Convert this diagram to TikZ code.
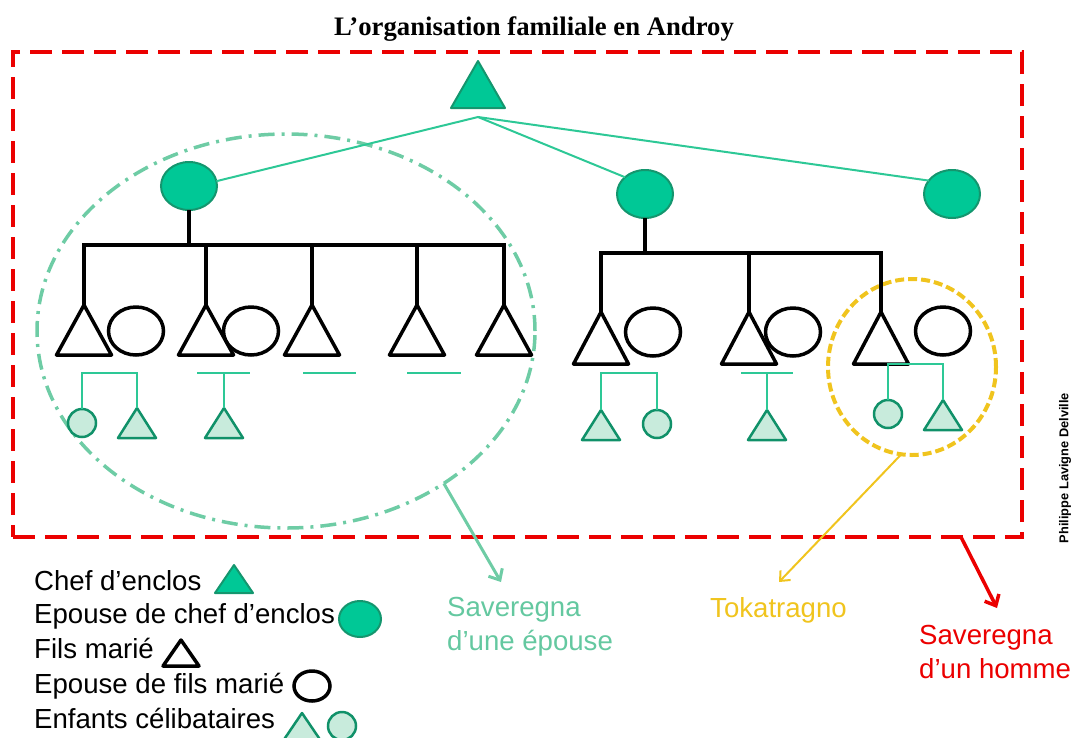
\documentclass[tikz,border=0pt]{standalone}
\usepackage{fontspec}
\setmainfont{Liberation Serif}
\setsansfont{Liberation Sans}
\usetikzlibrary{shapes.geometric}
\usetikzlibrary{arrows.meta}
\usetikzlibrary{positioning}

\definecolor{chefgreen}{RGB}{0,200,150}
\definecolor{chefline}{RGB}{20,150,110}
\definecolor{descgreen}{RGB}{45,200,150}
\definecolor{childfill}{RGB}{200,235,220}
\definecolor{childline}{RGB}{16,145,105}
\definecolor{sepgreen}{RGB}{110,204,165}
\definecolor{labgreen}{RGB}{100,200,160}
\definecolor{tokyellow}{RGB}{240,196,30}
\definecolor{homred}{RGB}{235,0,0}

\tikzset{
    tri/.style={isosceles triangle, shape border rotate=90, isosceles triangle stretches,
        inner sep=0pt, outer sep=0pt, anchor=apex, line join=round},
    chef/.style={tri, draw=chefline, fill=chefgreen, line width=2pt},
    wifechef/.style={ellipse, draw=chefline, fill=chefgreen, line width=2pt, inner sep=0pt,
        outer sep=0pt, minimum width=56pt, minimum height=48pt},
    son/.style={tri, draw=black, line width=3.5pt, minimum width=55pt, minimum height=50pt},
    wife/.style={ellipse, draw=black, line width=3.5pt, inner sep=0pt, outer sep=0pt,
        minimum width=55pt, minimum height=48pt},
    boy/.style={tri, draw=childline, fill=childfill, line width=2.5pt, minimum width=38pt,
        minimum height=30pt},
    girl/.style={circle, draw=childline, fill=childfill, line width=2.5pt, inner sep=0pt,
        outer sep=0pt, minimum size=28pt},
    kin/.style={line width=3.5pt},
    desc/.style={draw=descgreen, line width=2pt},
    legend/.style={font=\sffamily\fontsize{27.6}{30}\selectfont, anchor=base west, inner sep=0pt},
    caption/.style={font=\sffamily\fontsize{27.6}{34}\selectfont, align=left, anchor=north west,
        inner sep=0pt},
}

\begin{document}
\begin{tikzpicture}[x=1pt, y=-1pt]
    \useasboundingbox (0,0) rectangle (1075,737);

    \node[font=\bfseries\fontsize{26.7}{30}\selectfont, anchor=base] (title) at (534,35)
        {L’organisation familiale en Androy};
    \node[draw=homred, line width=4pt, dash pattern=on 22pt off 10pt, outer sep=0pt,
        minimum width=1009pt, minimum height=485pt, anchor=north west] (hom) at (13,52) {};

    \node[ellipse, draw=sepgreen, line width=3.5pt, dash pattern=on 16pt off 7pt on 3pt off 7pt,
        outer sep=0pt, minimum width=498pt, minimum height=394pt] (sep) at (286,331) {};
    \node[ellipse, draw=tokyellow, line width=4pt, dash pattern=on 9pt off 4pt, outer sep=0pt,
        minimum width=168pt, minimum height=176pt] (tok) at (912,367) {};

    \node[chef, minimum width=54pt, minimum height=47pt] (c0) at (478,61) {};
    \node[wifechef] (e1) at (189,186) {};
    \node[wifechef] (e2) at (645,194) {};
    \node[wifechef] (e3) at (952,194) {};
    \coordinate (cj) at (478,117);
    \draw[desc] (e1.10) -- (cj) -- (e2.140);
    \draw[desc] (cj) -- (e3.150);

    \foreach \n/\x in {1/84, 2/206, 3/312, 4/417, 5/504}
        \node[son] (s\n) at (\x,305) {};
    \node[wife] (w1) at (136,331) {};
    \node[wife] (w2) at (251,331) {};
    \coordinate (b1) at (189,245);
    \draw[kin] (e1) -- (b1);
    \draw[kin] (s1.apex) -- (s1.apex |- b1) -- (s5.apex |- b1) -- (s5.apex);
    \foreach \n in {2,3,4}
        \draw[kin] (s\n.apex) -- (s\n.apex |- b1);

    \foreach \n/\x in {6/601, 7/749, 8/881}
        \node[son, minimum height=52pt] (s\n) at (\x,312) {};
    \node[wife] (w6) at (653,332) {};
    \node[wife] (w7) at (793,332) {};
    \node[wife] (w8) at (943,331) {};
    \coordinate (b2) at (645,253);
    \draw[kin] (e2) -- (b2);
    \draw[kin] (s6.apex) -- (s6.apex |- b2) -- (s8.apex |- b2) -- (s8.apex);
    \draw[kin] (s7.apex) -- (s7.apex |- b2);

    \node[girl] (g1) at (82,423) {};
    \node[boy] (k1) at (137,408) {};
    \draw[desc] (g1.north) -- (g1.north |- 0,373) -- (k1.apex |- 0,373) -- (k1.apex);
    \node[boy] (k2) at (224,408) {};
    \coordinate (d2) at (224,373);
    \draw[desc] (k2.apex) -- (d2);
    \draw[desc] ([xshift=-27pt]d2) -- ([xshift=26pt]d2);
    \coordinate (d3) at (303,373);
    \draw[desc] (d3) -- ++(53,0);
    \coordinate (d4) at (407,373);
    \draw[desc] (d4) -- ++(54,0);

    \node[boy] (k6) at (601,410) {};
    \node[girl] (g6) at (657,424) {};
    \draw[desc] (k6.apex) -- (k6.apex |- 0,373) -- (g6.north |- 0,373) -- (g6.north);
    \node[boy] (k7) at (767,410) {};
    \coordinate (d7) at (767,373);
    \draw[desc] (k7.apex) -- (d7);
    \draw[desc] ([xshift=-26pt]d7) -- ([xshift=26pt]d7);
    \node[girl] (g8) at (888,414) {};
    \node[boy] (k8) at (943,400) {};
    \draw[desc] (g8.north) -- (g8.north |- 0,364) -- (k8.apex |- 0,364) -- (k8.apex);

    \node[caption, text=labgreen] (lep) at (447,597) {Saveregna\\d’une épouse};
    \node[caption, text=tokyellow] (ltok) at (710,597) {Tokatragno};
    \node[caption, text=homred] (lhom) at (919,625) {Saveregna\\d’un homme};
    \coordinate (ae) at (501,582);
    \coordinate (at) at (779,582);
    \coordinate (ah) at (997,608);
    \draw[-{Straight Barb[length=9pt,width=16pt]}, draw=sepgreen, line width=3pt] (sep.-44) -- (ae);
    \draw[-{Straight Barb[length=8pt,width=14pt]}, draw=tokyellow, line width=2pt] (tok.-97) -- (at);
    \draw[-{Straight Barb[length=9pt,width=16pt]}, draw=homred, line width=3.5pt]
        ([xshift=-61pt]hom.south east) -- (ah);

    \node[rotate=90, font=\sffamily\bfseries\fontsize{12.8}{14}\selectfont] (cred) at (1065,468)
        {Philippe Lavigne Delville};

    \node[legend] (l1) at (34,590) {Chef d’enclos};
    \node[legend] (l2) at (34,623) {Epouse de chef d’enclos};
    \node[legend] (l3) at (34,658) {Fils marié};
    \node[legend] (l4) at (34,693) {Epouse de fils marié};
    \node[legend] (l5) at (34,728) {Enfants célibataires};
    \node[chef, minimum width=38pt, minimum height=28pt] (m1) at (234,565) {};
    \node[wifechef, minimum width=42pt, minimum height=36pt] (m2) at (360,619) {};
    \node[son, minimum width=36pt, minimum height=26pt] (m3) at (181,640) {};
    \node[wife, minimum width=36pt, minimum height=30pt] (m4) at (312,686) {};
    \node[boy, minimum width=38pt, minimum height=28pt] (m5) at (302,713) {};
    \node[girl, minimum size=28pt] (m6) at (342,726) {};
\end{tikzpicture}
\end{document}
